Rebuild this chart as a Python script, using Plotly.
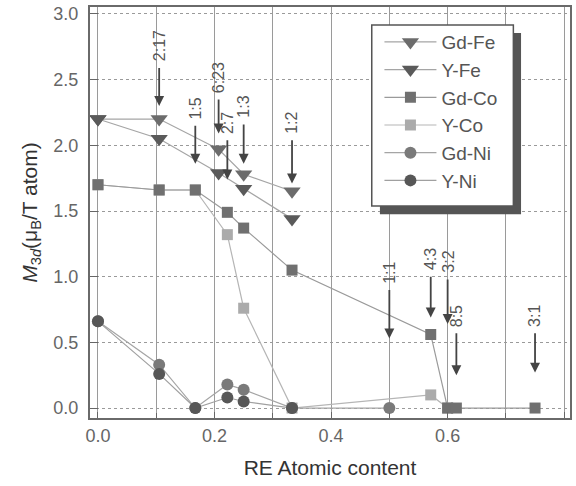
import plotly.graph_objects as go

# ---- data ----
gdfe_x = [0, 0.105, 0.207, 0.25, 0.333]
gdfe_y = [2.2, 2.2, 1.97, 1.78, 1.65]
yfe_x = [0, 0.105, 0.207, 0.25, 0.333]
yfe_y = [2.2, 2.05, 1.79, 1.67, 1.44]
gdco_x = [0, 0.105, 0.167, 0.222, 0.25, 0.333, 0.571, 0.6, 0.615, 0.75]
gdco_y = [1.7, 1.66, 1.66, 1.49, 1.37, 1.05, 0.56, 0, 0, 0]
yco_x = [0, 0.105, 0.167, 0.222, 0.25, 0.333, 0.571, 0.6]
yco_y = [1.7, 1.66, 1.66, 1.32, 0.76, 0, 0.1, 0]
gdni_x = [0, 0.105, 0.167, 0.222, 0.25, 0.333, 0.5]
gdni_y = [0.66, 0.33, 0, 0.18, 0.14, 0, 0]
yni_x = [0, 0.105, 0.167, 0.222, 0.25, 0.333]
yni_y = [0.66, 0.26, 0, 0.08, 0.05, 0]

ratio_labels = ["2:17", "1:5", "6:23", "2:7", "1:3", "1:2", "1:1", "4:3", "3:2", "8:5", "3:1"]
ratio_x = [0.105, 0.167, 0.207, 0.222, 0.25, 0.333, 0.5, 0.571, 0.6, 0.615, 0.75]
ratio_tip = [2.3, 1.86, 2.09, 1.74, 1.86, 1.71, 0.53, 0.69, 0.64, 0.25, 0.27]
ratio_tail = [2.6, 2.16, 2.36, 2.05, 2.17, 2.05, 0.91, 1.01, 0.99, 0.58, 0.58]

FONT = "Liberation Sans, Arial, Helvetica, sans-serif"

series = [
    ("Gd-Fe", gdfe_x, gdfe_y, "triangle-down", 15, "#6c6c6c", "#a5a5a5"),
    ("Y-Fe", yfe_x, yfe_y, "triangle-down", 15, "#5a5a5a", "#a5a5a5"),
    ("Gd-Co", gdco_x, gdco_y, "square", 11, "#707070", "#9a9a9a"),
    ("Y-Co", yco_x, yco_y, "square", 11, "#ababab", "#b5b5b5"),
    ("Gd-Ni", gdni_x, gdni_y, "circle", 12, "#7a7a7a", "#a5a5a5"),
    ("Y-Ni", yni_x, yni_y, "circle", 12, "#575757", "#a0a0a0"),
]

fig = go.Figure()
# draw Y-Co under Gd-Co so hidden overlaps match the picture
draw_order = [3, 0, 1, 2, 4, 5]
for i in draw_order:
    name, xs, ys, sym, sz, mc, lc = series[i]
    fig.add_trace(go.Scatter(
        x=xs, y=ys, name=name, mode="lines+markers",
        line=dict(color=lc, width=1.2),
        marker=dict(symbol=sym, size=sz, color=mc, line=dict(width=0)),
        legendrank=i + 1,
    ))

for lab, x, tip, tail in zip(ratio_labels, ratio_x, ratio_tip, ratio_tail):
    fig.add_annotation(
        x=x, y=tip, ax=x, ay=tail, xref="x", yref="y", axref="x", ayref="y",
        text="", showarrow=True, arrowhead=2, arrowsize=1.1, arrowwidth=1.8,
        arrowcolor="#444444",
    )
    fig.add_annotation(
        x=x, y=tail, xref="x", yref="y", text=lab, showarrow=False,
        textangle=-90, xanchor="center", yanchor="bottom", yshift=3,
        font=dict(family=FONT, size=16, color="#555555"),
    )

# legend shadow and box
fig.add_shape(type="rect", xref="paper", yref="paper",
              x0=0.604, x1=0.898, y0=0.496, y1=0.937,
              fillcolor="#555555", line=dict(width=0), layer="above")
fig.add_shape(type="rect", xref="paper", yref="paper",
              x0=0.587, x1=0.882, y0=0.516, y1=0.956,
              fillcolor="white", line=dict(color="#555555", width=1.5),
              layer="above")

fig.update_layout(
    width=576, height=486,
    margin=dict(l=90, r=4, t=5, b=68),
    plot_bgcolor="white", paper_bgcolor="white",
    font=dict(family=FONT, color="#555555"),
    showlegend=True,
    legend=dict(
        x=0.603, y=0.961, xanchor="left", yanchor="top",
        bgcolor="rgba(0,0,0,0)", borderwidth=0,
        font=dict(family=FONT, size=19, color="#555555"),
        itemwidth=52, traceorder="normal",
    ),
    xaxis=dict(
        range=[-0.0137, 0.81], dtick=0.2, tick0=0,
        showgrid=True, gridcolor="#9a9a9a", gridwidth=1,
        minor=dict(dtick=0.1, showgrid=True, gridcolor="#9a9a9a", gridwidth=1,
                   ticks="inside", ticklen=5, tickcolor="#666"),
        tickformat=".1f", ticks="inside", ticklen=6, tickcolor="#666",
        showline=True, linecolor="#6a6a6a", linewidth=2, mirror=True,
        zeroline=False,
        tickfont=dict(family=FONT, size=18, color="#666666"),
        title=dict(text="RE Atomic content", standoff=16,
                   font=dict(family=FONT, size=21, color="#333333")),
    ),
    yaxis=dict(
        range=[-0.0758, 3.053], dtick=0.5, tick0=0,
        showgrid=True, gridcolor="#9a9a9a", gridwidth=1, griddash="dot",
        tickformat=".1f", ticks="inside", ticklen=8, tickcolor="#666",
        showline=True, linecolor="#6a6a6a", linewidth=2, mirror=True,
        zeroline=False, ticklabelstandoff=6,
        tickfont=dict(family=FONT, size=18, color="#666666"),
        title=dict(text="<i>M</i><sub>3<i>d</i></sub>(μ<sub>B</sub>/T atom)",
                   standoff=10,
                   font=dict(family=FONT, size=21, color="#333333")),
    ),
)

fig.write_html("out.html")
